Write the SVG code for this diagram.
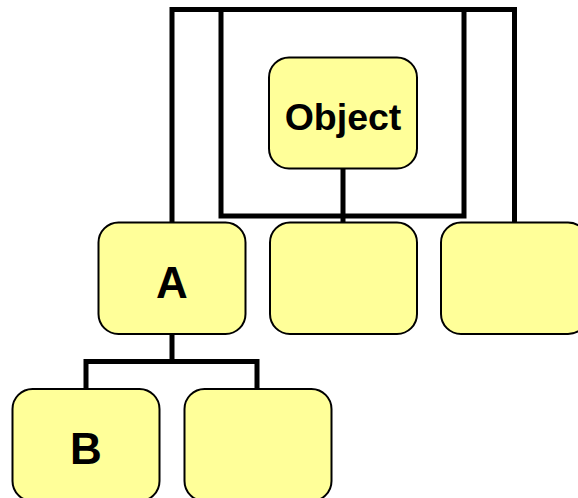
<svg xmlns="http://www.w3.org/2000/svg" width="578" height="498" viewBox="0 0 578 498">
  <style>
    .box { fill: #FFFF99; stroke: #000; stroke-width: 2; }
    .wire { fill: none; stroke: #000; stroke-width: 5; stroke-linejoin: miter; stroke-linecap: square; }
    .lbl { font-family: "Liberation Sans", Arial, sans-serif; font-weight: bold; fill: #000; text-anchor: middle; }
  </style>
  <rect width="578" height="498" fill="#fff"/>

  <g id="connectors">
    <!-- outer frame: A to the right-hand box -->
    <path class="wire" d="M172,222 V9.5 H514.5 V222"/>
    <!-- inner frame -->
    <path class="wire" d="M221,9.5 V216 H464 V9.5"/>
    <!-- Object down to middle box -->
    <path class="wire" d="M343,168 V222"/>
    <!-- A to its children -->
    <path class="wire" d="M172,334 V361.5 M86,389 V361.5 H257 V389"/>
  </g>

  <g id="object">
    <rect class="box" x="269" y="57.5" width="148" height="111" rx="20"/>
    <text class="lbl" x="343" y="129.5" font-size="37.5">Object</text>
  </g>
  <g id="a">
    <rect class="box" x="98.5" y="222.5" width="147" height="111.5" rx="20"/>
    <text class="lbl" x="172" y="298" font-size="44">A</text>
  </g>
  <g id="middle">
    <rect class="box" x="270" y="222.5" width="147" height="111.5" rx="20"/>
  </g>
  <g id="right">
    <rect class="box" x="441" y="222.5" width="147" height="111.5" rx="20"/>
  </g>
  <g id="b">
    <rect class="box" x="12.5" y="389" width="147" height="112" rx="20"/>
    <text class="lbl" x="86" y="464" font-size="44">B</text>
  </g>
  <g id="b-sibling">
    <rect class="box" x="184.5" y="389" width="147" height="112" rx="20"/>
  </g>
</svg>
